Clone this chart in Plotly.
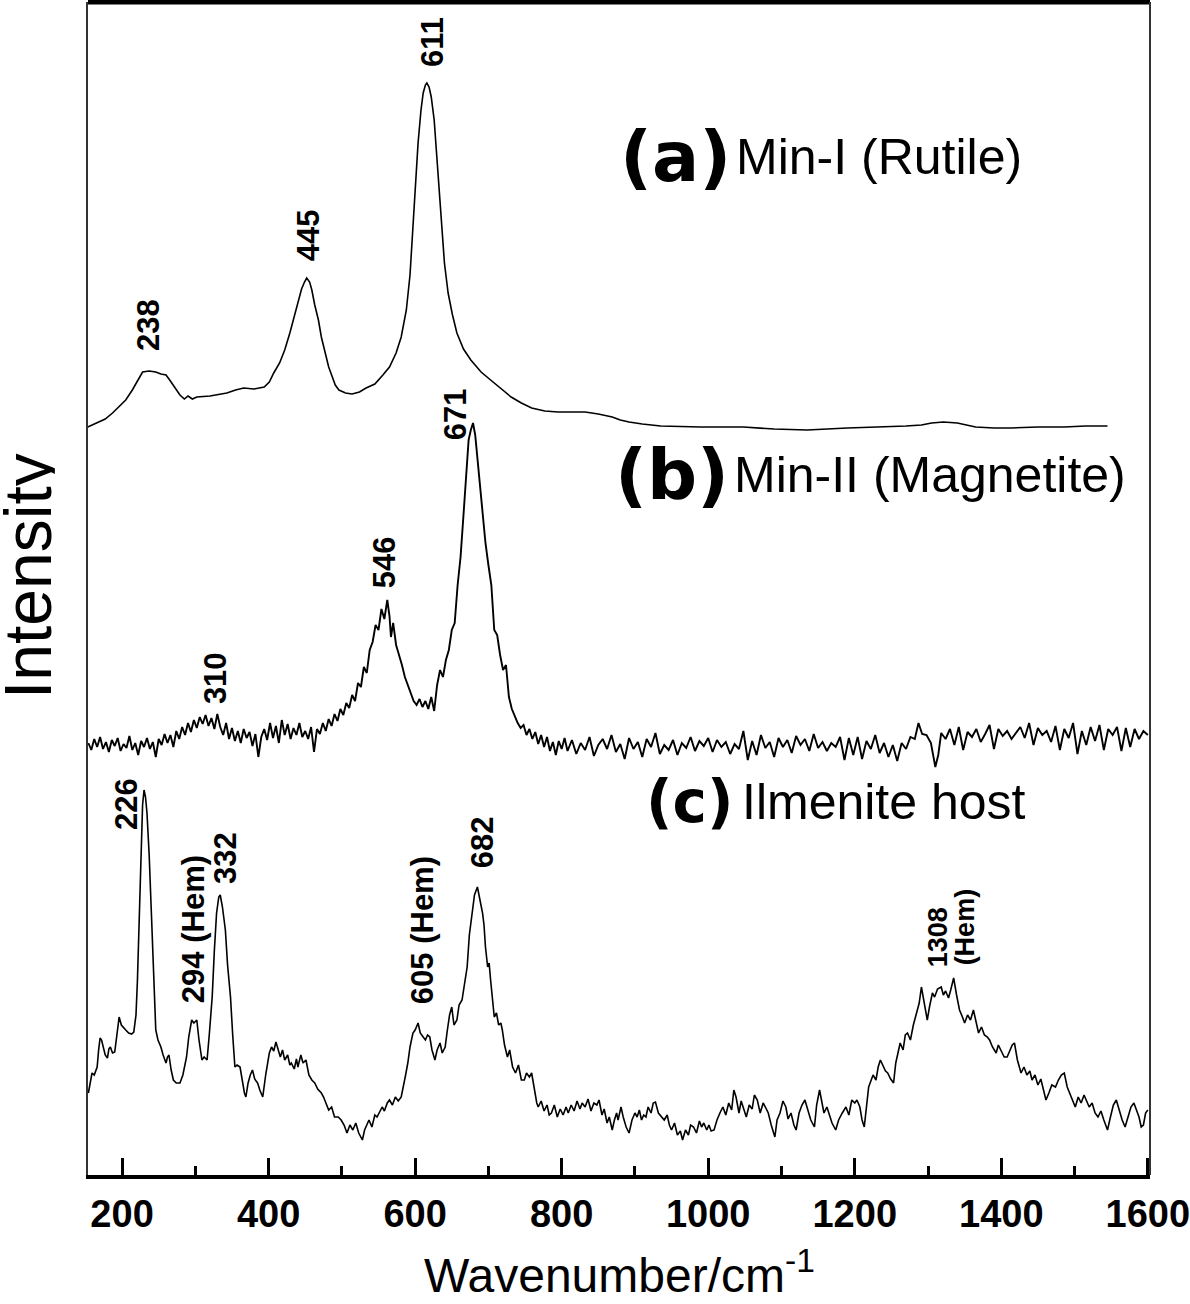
import plotly.graph_objects as go

# ---------------- data (wavenumber, intensity in arbitrary offset units) ----------------
a_w = [153, 165, 177, 187, 196, 205, 214, 221, 228, 237, 246, 253, 260, 265, 270, 275, 279, 285, 290, 296,
       302, 320, 343, 355, 366, 380, 394, 401, 407, 415, 422, 429, 436, 441, 445, 449, 452, 456, 459, 463,
       468, 472, 477, 482, 487, 491, 496, 505, 514, 524, 533, 545, 556, 565, 574, 581, 588, 593, 597, 601,
       604, 608, 611, 614, 616, 619, 622, 626, 629, 633, 636, 640, 645, 651, 657, 666, 676, 690, 703, 717,
       731, 745, 759, 777, 795, 813, 832, 850, 869, 880, 892, 910, 935, 990, 1048, 1090, 1135, 1190, 1243, 1270,
       1291, 1305, 1321, 1340, 1365, 1390, 1413, 1450, 1486, 1515, 1545]
a_i = [748, 752, 756, 762, 768, 775, 785, 794, 803, 804, 803, 801, 800, 795, 790, 784, 780, 776, 779, 776,
       778, 779, 782, 785, 787, 786, 788, 793, 802, 812, 825, 842, 862, 877, 886, 893, 897, 893, 885, 870,
       855, 838, 822, 808, 798, 790, 785, 782, 781, 783, 787, 791, 800, 808, 822, 838, 865, 900, 948, 995,
       1032, 1065, 1082, 1090, 1092, 1088, 1078, 1055, 1022, 985, 948, 912, 882, 860, 842, 826, 815, 803, 795, 786,
       778, 772, 767, 764, 763, 763, 763, 761, 758, 755, 753, 751, 749, 748, 748, 746, 745, 747, 748, 749,
       750, 752, 753, 752, 748, 747, 747, 748, 748, 749, 749]

b_w = [154, 158, 162, 166, 170, 174, 178, 182, 186, 190, 194, 198, 202, 206, 210, 214, 218, 222, 226, 230,
       234, 238, 242, 246, 250, 254, 258, 262, 266, 270, 274, 278, 282, 286, 290, 294, 298, 302, 306, 310,
       314, 318, 322, 326, 330, 334, 338, 342, 346, 350, 354, 358, 362, 366, 370, 374, 378, 382, 386, 390,
       394, 398, 402, 406, 410, 414, 418, 422, 426, 430, 434, 438, 442, 446, 450, 454, 458, 462, 466, 470,
       474, 478, 482, 486, 490, 494, 498, 502, 506, 510, 514, 518, 522, 526, 530, 534, 538, 542, 546, 550,
       554, 558, 562, 565, 567, 570, 574, 578, 582, 586, 590, 594, 598, 602, 606, 610, 614, 618, 622, 626,
       630, 634, 638, 642, 646, 650, 654, 658, 662, 666, 670, 673, 676, 679, 682, 684, 688, 692, 696, 700,
       704, 708, 712, 716, 720, 724, 728, 732, 736, 740, 744, 748, 752, 756, 760, 764, 768, 772, 776, 780,
       784, 788, 792, 796, 800, 804, 808, 814, 820, 826, 832, 838, 844, 850, 856, 862, 868, 874, 880, 886,
       892, 898, 904, 910, 916, 922, 928, 934, 940, 946, 952, 958, 964, 970, 976, 982, 988, 994, 1000, 1006,
       1012, 1018, 1024, 1030, 1036, 1042, 1048, 1054, 1060, 1066, 1072, 1078, 1084, 1090, 1096, 1102, 1108, 1114, 1120, 1126,
       1132, 1138, 1144, 1150, 1156, 1162, 1168, 1174, 1180, 1186, 1192, 1198, 1204, 1210, 1216, 1222, 1228, 1234, 1240, 1246,
       1252, 1258, 1264, 1270, 1276, 1282, 1287, 1292, 1298, 1304, 1310, 1314, 1318, 1324, 1330, 1336, 1342, 1348, 1354, 1360,
       1366, 1372, 1378, 1384, 1390, 1396, 1402, 1408, 1414, 1420, 1426, 1432, 1438, 1444, 1450, 1456, 1462, 1468, 1474, 1480,
       1486, 1492, 1498, 1504, 1510, 1516, 1522, 1528, 1534, 1540, 1546, 1552, 1558, 1564, 1570, 1576, 1582, 1588, 1594, 1600]
b_i = [432, 425, 436, 428, 438, 426, 433, 423, 435, 429, 437, 424, 431, 427, 439, 425, 432, 420, 434, 428,
       437, 426, 433, 418, 436, 430, 441, 432, 440, 428, 444, 436, 448, 440, 452, 443, 455, 447, 458, 451,
       460, 449, 457, 446, 461, 448, 440, 452, 436, 447, 434, 444, 432, 446, 437, 443, 429, 441, 418, 438,
       446, 435, 452, 437, 449, 432, 455, 440, 451, 436, 447, 440, 452, 438, 444, 436, 448, 423, 446, 441,
       452, 444, 456, 449, 461, 454, 466, 460, 472, 467, 480, 474, 492, 488, 508, 502, 525, 533, 550, 545,
       566, 556, 575, 559, 538, 552, 530, 521, 510, 498, 490, 480, 474, 470, 476, 468, 474, 466, 478, 464,
       490, 505, 498, 515, 525, 545, 552, 590, 618, 660, 700, 735, 745, 752, 740, 725, 690, 665, 632, 610,
       590, 545, 540, 520, 505, 510, 478, 466, 458, 452, 447, 450, 440, 446, 436, 443, 431, 440, 428, 438,
       424, 433, 420, 434, 426, 437, 424, 435, 421, 432, 425, 438, 419, 430, 436, 426, 440, 423, 431, 416,
       437, 426, 433, 418, 436, 428, 442, 421, 430, 425, 435, 420, 432, 427, 438, 424, 434, 429, 437, 423,
       435, 428, 433, 421, 431, 426, 444, 415, 434, 420, 440, 427, 433, 418, 437, 428, 435, 422, 439, 430,
       436, 424, 441, 427, 433, 424, 432, 428, 438, 415, 437, 420, 438, 416, 434, 426, 440, 422, 432, 418,
       430, 414, 432, 426, 438, 436, 452, 441, 440, 432, 408, 420, 442, 436, 446, 430, 448, 425, 443, 438,
       446, 433, 441, 450, 426, 446, 439, 444, 436, 442, 448, 437, 452, 430, 447, 440, 444, 433, 449, 425,
       446, 437, 452, 421, 444, 430, 448, 434, 450, 425, 446, 440, 448, 424, 447, 428, 446, 436, 444, 440]

c_points = [
    (154, 82), (157, 95), (159, 102), (162, 100), (166, 108), (168, 125), (170, 137), (172, 135), (174, 130), (177, 120),
    (180, 117), (182, 126), (184, 128), (187, 122), (190, 123), (193, 140), (196, 158), (199, 150), (202, 147), (205, 145),
    (209, 142), (213, 141), (216, 143), (219, 160), (221, 195), (224, 270), (226, 328), (228, 370), (230, 385), (232, 378),
    (234, 362), (237, 320), (240, 262), (243, 195), (246, 145), (249, 135), (253, 128), (256, 120), (258, 116), (260, 112),
    (262, 118), (264, 120), (267, 105), (270, 95), (274, 92), (279, 92), (283, 100), (288, 118), (291, 138), (295, 155),
    (298, 152), (302, 155), (305, 135), (309, 115), (312, 118), (316, 115), (319, 140), (323, 178), (326, 225), (329, 262),
    (332, 278), (334, 280), (337, 268), (341, 245), (344, 210), (348, 178), (351, 140), (354, 108), (357, 110), (361, 108),
    (364, 95), (367, 82), (369, 78), (372, 92), (375, 100), (378, 105), (381, 96), (385, 92), (388, 85), (392, 78),
    (396, 100), (401, 122), (404, 128), (407, 124), (410, 133), (413, 126), (416, 118), (419, 125), (422, 115), (426, 120),
    (429, 110), (431, 112), (435, 106), (438, 116), (440, 108), (444, 120), (447, 112), (451, 115), (455, 100), (459, 95),
    (463, 92), (467, 86), (472, 82), (475, 78), (479, 70), (482, 65), (486, 68), (490, 58), (495, 58), (499, 55),
    (503, 50), (507, 42), (511, 50), (515, 45), (519, 52), (523, 42), (528, 35), (531, 45), (534, 50), (537, 55),
    (541, 48), (545, 60), (548, 58), (551, 62), (555, 68), (558, 64), (562, 72), (565, 75), (569, 70), (573, 78),
    (577, 74), (581, 78), (584, 88), (587, 100), (590, 112), (593, 128), (597, 142), (600, 145), (604, 152), (607, 142),
    (611, 138), (614, 135), (617, 140), (620, 138), (623, 125), (627, 115), (630, 125), (634, 132), (637, 122), (641, 128),
    (644, 145), (647, 160), (650, 168), (653, 150), (657, 155), (660, 170), (664, 175), (667, 190), (671, 208), (674, 240),
    (678, 262), (681, 280), (685, 288), (688, 278), (692, 262), (694, 250), (696, 228), (699, 208), (701, 212), (703, 195),
    (706, 175), (708, 158), (711, 162), (714, 150), (717, 152), (719, 145), (722, 130), (726, 118), (729, 125), (733, 108),
    (737, 102), (741, 110), (745, 95), (749, 95), (752, 102), (756, 98), (759, 102), (763, 85), (766, 72), (768, 68),
    (772, 74), (776, 64), (780, 70), (783, 60), (786, 62), (790, 70), (794, 58), (798, 66), (802, 60), (806, 68),
    (809, 62), (813, 70), (817, 64), (821, 74), (825, 66), (828, 72), (832, 68), (836, 76), (840, 64), (844, 72),
    (848, 70), (851, 75), (855, 60), (858, 66), (862, 52), (865, 58), (869, 45), (872, 55), (875, 62), (877, 55),
    (881, 68), (884, 58), (888, 48), (892, 42), (896, 55), (900, 62), (903, 58), (906, 65), (909, 55), (912, 60),
    (915, 58), (918, 68), (922, 62), (925, 72), (928, 73), (932, 62), (936, 58), (940, 55), (944, 60), (947, 50),
    (950, 45), (954, 52), (958, 40), (962, 44), (965, 35), (969, 45), (973, 40), (976, 50), (980, 48), (984, 42),
    (988, 54), (991, 48), (994, 52), (998, 45), (1001, 50), (1004, 44), (1008, 45), (1012, 55), (1016, 62), (1020, 68),
    (1024, 60), (1028, 72), (1032, 65), (1035, 85), (1038, 78), (1042, 62), (1045, 74), (1048, 66), (1052, 58), (1056, 70),
    (1060, 66), (1063, 80), (1067, 75), (1071, 62), (1075, 72), (1078, 68), (1082, 62), (1086, 50), (1089, 42), (1091, 38),
    (1094, 55), (1098, 62), (1102, 74), (1106, 68), (1109, 56), (1113, 62), (1117, 50), (1120, 45), (1124, 62), (1128, 70),
    (1132, 75), (1136, 64), (1140, 55), (1145, 48), (1148, 70), (1152, 85), (1155, 72), (1158, 62), (1162, 68), (1165, 62),
    (1169, 52), (1174, 45), (1178, 55), (1183, 62), (1188, 68), (1192, 60), (1196, 75), (1200, 72), (1203, 75), (1207, 68),
    (1210, 55), (1213, 48), (1216, 70), (1219, 88), (1221, 92), (1225, 100), (1229, 95), (1232, 108), (1235, 115), (1239, 108),
    (1242, 104), (1245, 102), (1249, 96), (1253, 92), (1256, 112), (1259, 122), (1262, 132), (1266, 125), (1269, 140), (1272, 142),
    (1276, 135), (1280, 150), (1284, 162), (1288, 172), (1291, 188), (1295, 170), (1299, 155), (1302, 168), (1306, 182), (1309, 178),
    (1313, 186), (1318, 188), (1321, 180), (1324, 184), (1328, 177), (1331, 185), (1335, 197), (1339, 180), (1343, 165), (1347, 158),
    (1350, 152), (1354, 160), (1358, 155), (1362, 165), (1366, 150), (1369, 142), (1373, 148), (1377, 140), (1381, 138), (1384, 135),
    (1388, 128), (1393, 122), (1396, 130), (1400, 124), (1404, 118), (1408, 118), (1412, 125), (1415, 130), (1418, 132), (1422, 115),
    (1427, 102), (1431, 108), (1435, 100), (1439, 104), (1442, 95), (1446, 100), (1450, 90), (1454, 96), (1458, 84), (1461, 75),
    (1465, 82), (1469, 90), (1474, 88), (1478, 95), (1482, 100), (1486, 102), (1490, 88), (1494, 80), (1498, 74), (1501, 68),
    (1505, 78), (1509, 72), (1513, 80), (1516, 75), (1520, 68), (1524, 72), (1528, 62), (1532, 58), (1536, 64), (1540, 55),
    (1545, 45), (1549, 58), (1553, 70), (1557, 75), (1561, 65), (1565, 55), (1569, 48), (1573, 58), (1577, 68), (1581, 72),
    (1584, 65), (1588, 58), (1591, 48), (1594, 50), (1597, 62), (1600, 65),
]
c_w = [p[0] for p in c_points]
c_i = [p[1] for p in c_points]

peak_labels = ["611", "445", "238", "671", "546", "310", "226", "294 (Hem)", "332", "605 (Hem)", "682"]
peak_w = [623, 454, 235.5, 654.6, 557.7, 327, 205.5, 297, 340.6, 609.6, 691.5]
peak_i = [1133, 940, 850, 761, 613, 497, 371, 246, 317, 245, 333]

hem_labels = ["1308", "(Hem)"]
hem_w = [1314, 1351]
hem_i = [238, 248]

series_tags = ["(a)", "(b)", "(c)"]
series_names = ["Min-I (Rutile)", "Min-II (Magnetite)", "Ilmenite host"]
tag_sizes = [70, 70, 58]
tag_w = [1034, 1031, 1037]
name_w = [1035.5, 1033, 1043.7]
label_i = [1018, 700, 373]

# ---------------- figure ----------------
fig = go.Figure()
fig.add_trace(go.Scatter(x=a_w, y=a_i, mode="lines", line=dict(color="black", width=1.6), showlegend=False))
fig.add_trace(go.Scatter(x=b_w, y=b_i, mode="lines", line=dict(color="black", width=1.9), showlegend=False))
fig.add_trace(go.Scatter(x=c_w, y=c_i, mode="lines", line=dict(color="black", width=1.6), showlegend=False))

bold_font = dict(family="Liberation Sans, Arial", size=31, color="black", weight="bold")
for txt, w, i in zip(peak_labels, peak_w, peak_i):
    fig.add_annotation(x=w, y=i, text=txt, textangle=-90, showarrow=False,
                       xanchor="center", yanchor="middle", font=bold_font)

for txt, w, i in zip(hem_labels, hem_w, hem_i):
    fig.add_annotation(x=w, y=i, text=txt, textangle=-90, showarrow=False,
                       xanchor="center", yanchor="middle",
                       font=dict(family="Liberation Sans, Arial", size=27, color="black", weight="bold"))

for tag, name, size, tw, nw, li in zip(series_tags, series_names, tag_sizes, tag_w, name_w, label_i):
    fig.add_annotation(x=tw, y=li, text=tag, showarrow=False, xanchor="right", yanchor="middle",
                       font=dict(family="DejaVu Sans", size=size, color="black", weight="bold"))
    fig.add_annotation(x=nw, y=li, text=name, showarrow=False, xanchor="left", yanchor="middle",
                       font=dict(family="Liberation Sans, Arial", size=50, color="black"))

# axis titles
fig.add_annotation(xref="paper", yref="paper", x=0.5, y=-0.083, text="Wavenumber/cm<sup>-1</sup>",
                   showarrow=False, xanchor="center", yanchor="middle",
                   font=dict(family="Liberation Sans, Arial", size=48, color="black"))
fig.add_annotation(xref="paper", yref="paper", x=-0.057, y=0.511, text="Intensity", textangle=-90,
                   showarrow=False, xanchor="center", yanchor="middle", height=54,
                   font=dict(family="Liberation Sans, Arial", size=66, color="black"))

# frame: thick top, thin right
fig.add_shape(type="line", xref="paper", yref="paper", x0=0, x1=1, y0=1, y1=1,
              line=dict(color="black", width=5))
fig.add_shape(type="line", xref="paper", yref="paper", x0=1, x1=1, y0=0, y1=1,
              line=dict(color="#333333", width=2))

fig.update_layout(
    width=1190, height=1304,
    margin=dict(l=88, r=40, t=2, b=129),
    paper_bgcolor="white", plot_bgcolor="white",
    xaxis=dict(range=[153.5, 1603], showgrid=False, zeroline=False, automargin=False,
               showline=True, linecolor="black", linewidth=4,
               ticks="inside", ticklen=17, tickwidth=3, tickcolor="black",
               tick0=0, dtick=200, ticklabelstandoff=2, ticklabeloverflow="allow",
               tickfont=dict(family="Liberation Sans, Arial", size=38,
                             color="black", weight="bold"),
               minor=dict(ticks="inside", ticklen=9, tickwidth=3, tickcolor="black",
                          tick0=0, dtick=100, showgrid=False)),
    yaxis=dict(range=[0, 1173], showgrid=False, zeroline=False, showticklabels=False, automargin=False,
               showline=True, linecolor="#333333", linewidth=2, ticks=""),
)

fig.write_html("out.html", config={"displayModeBar": False},
               post_script="document.body.style.margin='0px';document.body.style.overflow='hidden';")
